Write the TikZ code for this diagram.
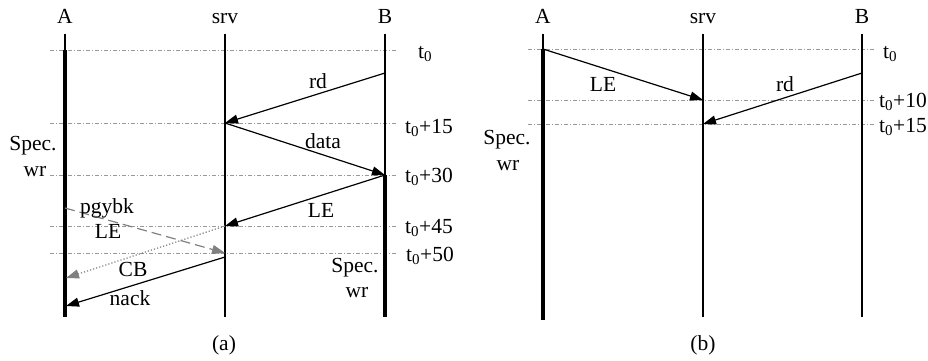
\documentclass[tikz,border=0pt]{standalone}
\usepackage{fontspec}
\setmainfont{Liberation Serif}
\usetikzlibrary{arrows.meta}

\begin{document}
\begin{tikzpicture}[x=1pt, y=-1pt,
    every node/.style={font=\fontsize{21.5}{26}\selectfont, inner sep=0pt, anchor=base},
    life/.style={line width=1.3pt},
    busy/.style={line width=3.3pt},
    tick/.style={gray!80, line width=0.6pt, dash pattern=on 4pt off 2pt on 1pt off 2pt},
    msg/.style={line width=1.2pt, -{Triangle[length=13pt,width=9pt]}},
    piggy/.style={msg, gray, dash pattern=on 10pt off 5pt},
    cback/.style={msg, gray, dotted},
    tlabel/.style={anchor=base west}]

    \useasboundingbox (0,0) rectangle (928,360);

    % (a) lifelines
    \node (aA) at (65,23) {A};
    \node (aS) at (225,23) {srv};
    \node (aB) at (385,23) {B};
    \coordinate (aAtop) at (65,34);
    \coordinate (aAt0) at (65,50);
    \coordinate (aAbot) at (65,317);
    \coordinate (aStop) at (225,34);
    \coordinate (aSbot) at (225,317);
    \coordinate (aBtop) at (385,34);
    \coordinate (aBt30) at (385,175);
    \coordinate (aBbot) at (385,317);

    % (a) time marks
    \draw[tick] (50,50) -- (397,50);
    \draw[tick] (50,123) -- (397,123);
    \draw[tick] (50,175) -- (397,175);
    \draw[tick] (50,226) -- (397,226);
    \draw[tick] (50,253) -- (397,253);
    \node[tlabel] (at0) at (418,58) {t\textsubscript{0}};
    \node[tlabel] (at15) at (405,133) {t\textsubscript{0}+15};
    \node[tlabel] (at30) at (405,182) {t\textsubscript{0}+30};
    \node[tlabel] (at45) at (405,233) {t\textsubscript{0}+45};
    \node[tlabel] (at50) at (406,261) {t\textsubscript{0}+50};

    \draw[life] (aAtop) -- (aAt0);
    \draw[busy] (aAt0) -- (aAbot);
    \draw[life] (aStop) -- (aSbot);
    \draw[life] (aBtop) -- (aBt30);
    \draw[busy] (aBt30) -- (aBbot);

    % (a) messages
    \coordinate (aBrd) at (385,73);
    \coordinate (aSrd) at (225,123);
    \coordinate (aSle) at (225,226);
    \coordinate (aApg) at (65,208);
    \coordinate (aSpg) at (225,253);
    \coordinate (aAcb) at (66,278);
    \coordinate (aSnk) at (225,257);
    \coordinate (aAnk) at (66,306);

    \draw[msg] (aBrd) -- (aSrd);
    \node (ard) at (318,88) {rd};
    \draw[msg] (aSrd) -- (aBt30);
    \node (adata) at (323,148) {data};
    \draw[msg] (aBt30) -- (aSle);
    \node (ale) at (321,217) {LE};
    \draw[piggy] (aApg) -- (aSpg);
    \node (apgybk) at (107,213) {pgybk};
    \node (apgle) at (108,238) {LE};
    \draw[cback] (aSle) -- (aAcb);
    \node (acb) at (133,276) {CB};
    \draw[msg] (aSnk) -- (aAnk);
    \node (anack) at (130,305) {nack};

    \node (aspecA) at (33,150) {Spec.};
    \node (awrA) at (35,176) {wr};
    \node (aspecB) at (355,272) {Spec.};
    \node (awrB) at (357,297) {wr};
    \node (acap) at (224,350) {(a)};

    % (b) lifelines
    \node (bA) at (543,23) {A};
    \node (bS) at (703,23) {srv};
    \node (bB) at (862,23) {B};
    \coordinate (bAtop) at (543,34);
    \coordinate (bAt0) at (543,49);
    \coordinate (bAbot) at (543,320);
    \coordinate (bStop) at (703,34);
    \coordinate (bSbot) at (703,317);
    \coordinate (bBtop) at (862,34);
    \coordinate (bBbot) at (862,317);

    % (b) time marks
    \draw[tick] (528,49) -- (875,49);
    \draw[tick] (528,100) -- (875,100);
    \draw[tick] (528,124) -- (875,124);
    \node[tlabel] (bt0) at (883,58) {t\textsubscript{0}};
    \node[tlabel] (bt10) at (879,107) {t\textsubscript{0}+10};
    \node[tlabel] (bt15) at (879,132) {t\textsubscript{0}+15};

    \draw[life] (bAtop) -- (bAt0);
    \draw[busy] (bAt0) -- (bAbot);
    \draw[life] (bStop) -- (bSbot);
    \draw[life] (bBtop) -- (bBbot);

    % (b) messages
    \coordinate (bSle) at (703,100);
    \coordinate (bBrd) at (862,73);
    \coordinate (bSrd) at (703,124);

    \draw[msg] (bAt0) -- (bSle);
    \node (ble) at (603,91) {LE};
    \draw[msg] (bBrd) -- (bSrd);
    \node (brd) at (785,91) {rd};

    \node (bspec) at (507,144) {Spec.};
    \node (bwr) at (508,170) {wr};
    \node (bcap) at (703,350) {(b)};

\end{tikzpicture}
\end{document}
